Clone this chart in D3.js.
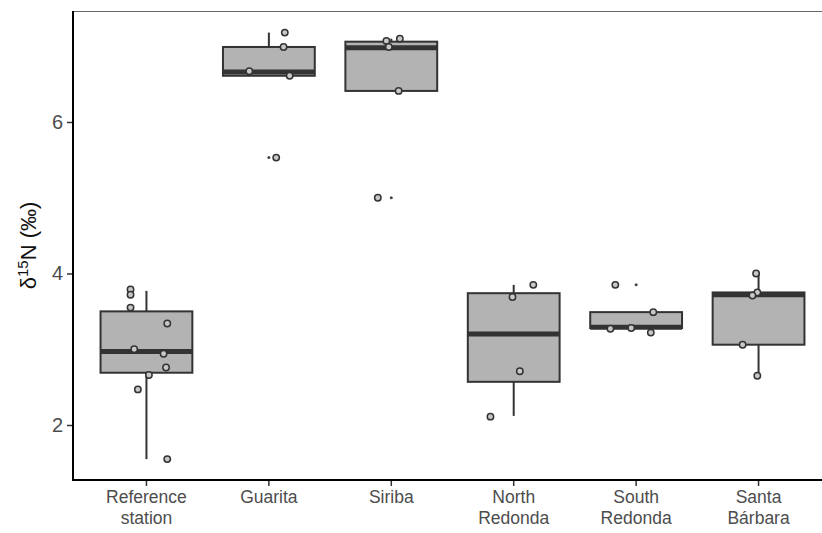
<!DOCTYPE html>
<html>
<head>
<meta charset="utf-8">
<script src="https://cdn.jsdelivr.net/npm/d3@7"></script>
<style>
  html, body { margin: 0; padding: 0; background: #fff; }
  svg { display: block; font-family: "Liberation Sans", Arial, sans-serif; }
</style>
</head>
<body>
<div id="app"></div>
<script>
// sites along the x axis (line break marked with \n)
const sites = ['Reference\nstation', 'Guarita', 'Siriba', 'North\nRedonda', 'South\nRedonda', 'Santa\nBárbara'];

// box statistics (δ15N, ‰)
const whiskerLow  = [1.55, 6.61, 6.41, 2.12, 3.28, 2.65];
const q1          = [2.69, 6.61, 6.41, 2.57, 3.28, 3.06];
const median      = [2.97, 6.66, 6.98, 3.20, 3.29, 3.72];
const q3          = [3.50, 6.99, 7.06, 3.74, 3.49, 3.75];
const whiskerHigh = [3.77, 7.18, 7.10, 3.85, 3.49, 4.00];
const outliers    = [[], [5.53], [5.00], [], [3.85], []];

// individual samples and their jitter (in category units)
const samples = [
  [3.79, 3.72, 3.55, 3.34, 3.00, 2.94, 2.76, 2.66, 2.47, 1.55],
  [7.18, 6.99, 6.67, 6.61, 5.53],
  [7.07, 7.10, 6.99, 6.41, 5.00],
  [3.69, 3.85, 2.71, 2.11],
  [3.85, 3.49, 3.27, 3.28, 3.22],
  [4.00, 3.75, 3.71, 3.06, 2.65]
];
const jitter = [
  [-0.13, -0.13, -0.13, 0.17, -0.10, 0.14, 0.16, 0.02, -0.07, 0.17],
  [0.13, 0.12, -0.16, 0.17, 0.06],
  [-0.04, 0.07, -0.02, 0.06, -0.11],
  [-0.01, 0.16, 0.05, -0.19],
  [-0.17, 0.14, -0.21, -0.04, 0.12],
  [-0.02, -0.01, -0.05, -0.13, -0.01]
];

const yTicks = [2, 4, 6];

(() => {
  const WIDTH = 822, HEIGHT = 533;
  const left = 73, top = 11, bottom = 480, right = 832;

  const svg = d3.select('#app').append('svg')
    .attr('width', WIDTH).attr('height', HEIGHT);

  const x = d3.scaleBand()
    .domain(sites)
    .range([left, right])
    .paddingInner(0)
    .paddingOuter(0.1);
  const step = x.step();
  const cx = (i) => x(sites[i]) + x.bandwidth() / 2;
  const boxW = step * 0.75;

  const y = d3.scaleLinear().domain([1.274, 7.465]).range([bottom, top]);

  // panel top line
  svg.append('line')
    .attr('x1', left).attr('x2', right).attr('y1', top + 0.5).attr('y2', top + 0.5)
    .attr('stroke', '#666').attr('stroke-width', 1.2);

  const boxes = svg.append('g');
  sites.forEach((s, i) => {
    const g = boxes.append('g');
    const c = cx(i);
    // whiskers
    g.append('line')
      .attr('x1', c).attr('x2', c)
      .attr('y1', y(q3[i])).attr('y2', y(whiskerHigh[i]))
      .attr('stroke', '#333').attr('stroke-width', 2);
    g.append('line')
      .attr('x1', c).attr('x2', c)
      .attr('y1', y(q1[i])).attr('y2', y(whiskerLow[i]))
      .attr('stroke', '#333').attr('stroke-width', 2);
    // box
    g.append('rect')
      .attr('x', c - boxW / 2).attr('width', boxW)
      .attr('y', y(q3[i])).attr('height', y(q1[i]) - y(q3[i]))
      .attr('fill', '#b3b3b3').attr('stroke', '#333').attr('stroke-width', 2);
    // median
    g.append('line')
      .attr('x1', c - boxW / 2).attr('x2', c + boxW / 2)
      .attr('y1', y(median[i])).attr('y2', y(median[i]))
      .attr('stroke', '#333').attr('stroke-width', 5);
    // outliers
    g.selectAll('circle.out')
      .data(outliers[i])
      .join('circle')
      .attr('class', 'out')
      .attr('cx', c).attr('cy', d => y(d))
      .attr('r', 1.5).attr('fill', '#444');
  });

  // jittered samples on top
  const pts = svg.append('g');
  sites.forEach((s, i) => {
    pts.selectAll(null)
      .data(samples[i].map((v, k) => ({ v, j: jitter[i][k] })))
      .join('circle')
      .attr('cx', d => cx(i) + d.j * step)
      .attr('cy', d => y(d.v))
      .attr('r', 3.2)
      .attr('fill', '#c8c8c8')
      .attr('stroke', '#333')
      .attr('stroke-width', 1.5);
  });

  // y axis
  const yAxis = svg.append('g')
    .attr('transform', `translate(${left},0)`)
    .call(d3.axisLeft(y).tickValues(yTicks).tickSize(6).tickPadding(4).tickFormat(d3.format('d')));
  yAxis.select('.domain').remove();
  yAxis.selectAll('.tick line').attr('stroke', '#333').attr('stroke-width', 1.5);
  yAxis.selectAll('.tick text')
    .attr('fill', '#4d4d4d').style('font-size', '20px')
    .style('font-family', '"Liberation Sans", Arial, sans-serif');

  // x axis
  const xAxis = svg.append('g')
    .attr('transform', `translate(0,${bottom})`)
    .call(d3.axisBottom(x).tickSize(6).tickPadding(4));
  xAxis.select('.domain').remove();
  xAxis.selectAll('.tick line').attr('stroke', '#333').attr('stroke-width', 1.5);
  xAxis.selectAll('.tick text').remove();
  xAxis.selectAll('.tick').each(function (d) {
    const lines = d.split('\n');
    const t = d3.select(this).append('text')
      .attr('fill', '#4d4d4d')
      .attr('text-anchor', 'middle')
      .style('font-size', '17.5px')
      .style('font-family', '"Liberation Sans", Arial, sans-serif');
    lines.forEach((ln, k) => {
      t.append('tspan').attr('x', 0).attr('y', 23 + k * 21).text(ln);
    });
  });

  // panel left and bottom lines
  svg.append('line')
    .attr('x1', left).attr('x2', left).attr('y1', top).attr('y2', bottom + 1)
    .attr('stroke', '#000').attr('stroke-width', 2);
  svg.append('line')
    .attr('x1', left - 1).attr('x2', right).attr('y1', bottom).attr('y2', bottom)
    .attr('stroke', '#000').attr('stroke-width', 2);

  // y title
  const title = svg.append('text')
    .attr('transform', `translate(36,${(top + bottom) / 2}) rotate(-90)`)
    .attr('text-anchor', 'middle')
    .attr('fill', '#111')
    .style('font-size', '22px');
  title.append('tspan').text('δ');
  title.append('tspan').attr('dy', -8).style('font-size', '15px').text('15');
  title.append('tspan').attr('dy', 8).text('N (‰)');
})();
</script>
</body>
</html>
